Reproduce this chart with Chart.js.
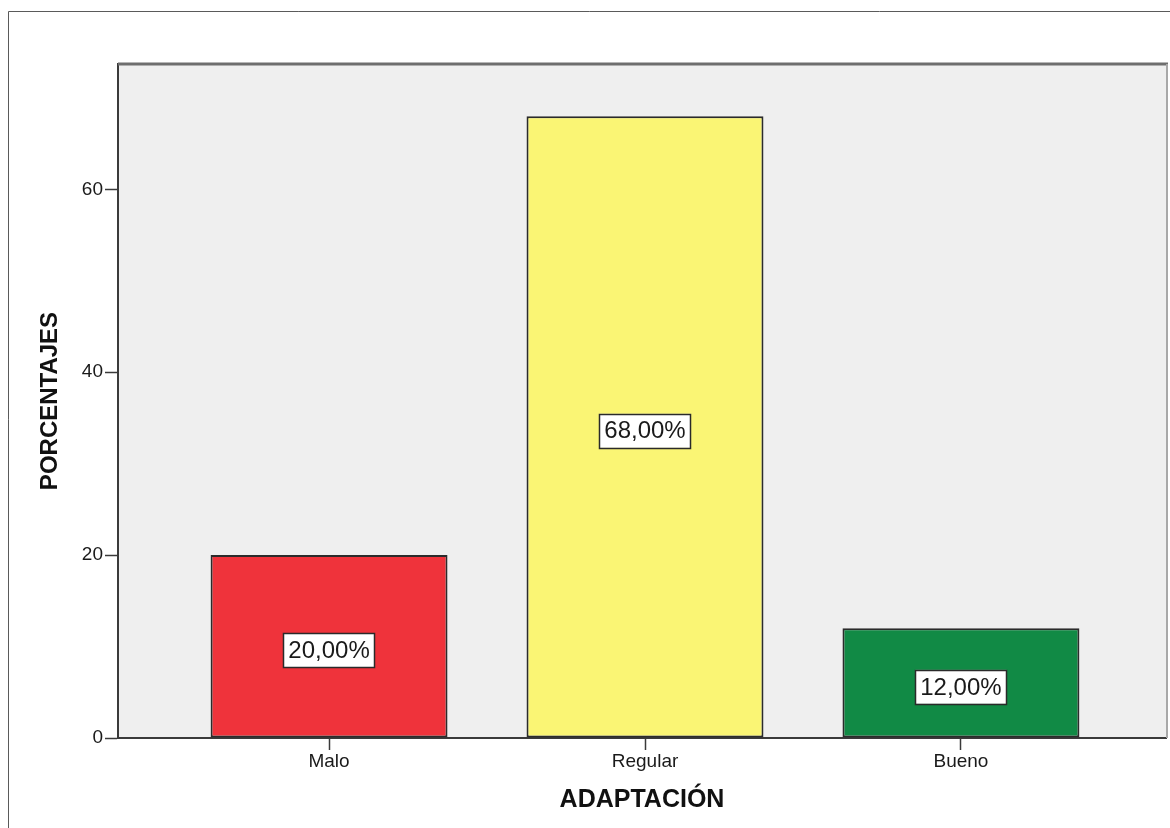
<!DOCTYPE html>
<html>
<head>
<meta charset="utf-8">
<title>ADAPTACIÓN</title>
<script src="https://cdn.jsdelivr.net/npm/chart.js@4.4.1/dist/chart.umd.min.js"></script>
<style>
  html, body { margin: 0; padding: 0; background: #ffffff; }
  #wrap { position: relative; width: 1170px; height: 828px; }
  canvas { display: block; }
</style>
</head>
<body>
<div id="wrap"><canvas id="chart" width="1170" height="828"></canvas></div>
<script>
// Categories and their percentages
const categories = ['Malo', 'Regular', 'Bueno'];
const percentages = [20, 68, 12];
const barColors = ['#ef333b', '#faf574', '#118a45'];
const yTicks = [0, 20, 40, 60];

const FONT = "'Liberation Sans', Arial, sans-serif";

// Shaded plot background, frame lines and the outer figure border
const frame = {
  id: 'frame',
  beforeDraw(chart) {
    const { ctx, chartArea: a } = chart;
    ctx.save();
    ctx.fillStyle = '#ffffff';
    ctx.fillRect(0, 0, chart.width, chart.height);
    // outer figure border
    ctx.strokeStyle = '#5a5a5a';
    ctx.lineWidth = 1;
    ctx.beginPath();
    ctx.moveTo(8.5, chart.height);
    ctx.lineTo(8.5, 11.5);
    ctx.lineTo(chart.width, 11.5);
    ctx.stroke();
    // plot background
    ctx.fillStyle = '#efefef';
    ctx.fillRect(a.left, a.top, a.right - a.left, a.bottom - a.top);
    ctx.restore();
  },
  afterDraw(chart) {
    const { ctx, chartArea: a } = chart;
    ctx.save();
    ctx.strokeStyle = '#6e6e6e';
    ctx.lineWidth = 3;
    ctx.beginPath();
    ctx.moveTo(a.left, a.top);
    ctx.lineTo(a.right + 2, a.top);
    ctx.stroke();
    ctx.strokeStyle = '#a8a8a8';
    ctx.lineWidth = 2;
    ctx.beginPath();
    ctx.moveTo(a.right + 1, a.top);
    ctx.lineTo(a.right + 1, a.bottom);
    ctx.stroke();
    ctx.restore();
  }
};

// Boxed value labels in the middle of each bar
const valueBoxes = {
  id: 'valueBoxes',
  afterDatasetsDraw(chart) {
    const { ctx } = chart;
    const meta = chart.getDatasetMeta(0);
    ctx.save();
    ctx.font = '24px ' + FONT;
    ctx.textAlign = 'center';
    ctx.textBaseline = 'middle';
    meta.data.forEach((bar, i) => {
      const text = percentages[i].toFixed(2).replace('.', ',') + '%';
      const cx = bar.x;
      const cy = (bar.y + bar.base) / 2 + 4;
      const w = ctx.measureText(text).width + 10;
      const h = 34;
      ctx.fillStyle = '#ffffff';
      ctx.fillRect(cx - w / 2, cy - h / 2, w, h);
      ctx.strokeStyle = '#2a2a2a';
      ctx.lineWidth = 1.5;
      ctx.strokeRect(Math.round(cx - w / 2) + 0.5, Math.round(cy - h / 2) + 0.5, Math.round(w), h);
      ctx.fillStyle = '#1a1a1a';
      ctx.fillText(text, cx, cy + 1);
    });
    ctx.restore();
  }
};

new Chart(document.getElementById('chart'), {
  type: 'bar',
  data: {
    datasets: [{
      data: categories.map((c, i) => ({ x: i, y: percentages[i] })),
      backgroundColor: barColors,
      borderColor: '#2b2b2b',
      borderWidth: 2,
      borderSkipped: false,
      categoryPercentage: 1,
      barPercentage: 0.75
    }]
  },
  options: {
    responsive: false,
    animation: false,
    devicePixelRatio: 1,
    layout: { padding: { left: 0, top: 64, right: 4, bottom: 0 } },
    plugins: {
      legend: { display: false },
      tooltip: { enabled: false }
    },
    scales: {
      x: {
        type: 'linear',
        offset: false,
        min: -0.668,
        max: 2.649,
        afterBuildTicks(scale) {
          scale.ticks = categories.map((c, i) => ({ value: i }));
        },
        afterFit(scale) { scale.height = 90; },
        ticks: {
          callback: (v) => categories[v],
          color: '#1a1a1a',
          font: { family: FONT, size: 19 },
          padding: 0,
          maxRotation: 0
        },
        grid: {
          display: true,
          offset: false,
          drawOnChartArea: false,
          drawTicks: true,
          tickLength: 12,
          tickColor: '#3a3a3a',
          tickWidth: 1.5
        },
        border: { display: true, color: '#3a3a3a', width: 2 },
        title: {
          display: true,
          text: 'ADAPTACIÓN',
          color: '#111111',
          font: { family: FONT, size: 25, weight: 'bold' },
          padding: { top: 0, bottom: 13 }
        }
      },
      y: {
        type: 'linear',
        min: 0,
        max: 73.7,
        afterBuildTicks(scale) {
          scale.ticks = yTicks.map(v => ({ value: v }));
        },
        afterFit(scale) { scale.width = 118; },
        ticks: {
          color: '#1a1a1a',
          font: { family: FONT, size: 19 },
          padding: 2
        },
        grid: {
          display: true,
          drawOnChartArea: false,
          drawTicks: true,
          tickLength: 13,
          tickColor: '#3a3a3a',
          tickWidth: 1.5
        },
        border: { display: true, color: '#3a3a3a', width: 2 },
        title: {
          display: true,
          text: 'PORCENTAJES',
          color: '#111111',
          font: { family: FONT, size: 24, weight: 'bold' },
          padding: { top: 36, bottom: 0 }
        }
      }
    }
  },
  plugins: [frame, valueBoxes]
});
</script>
</body>
</html>
